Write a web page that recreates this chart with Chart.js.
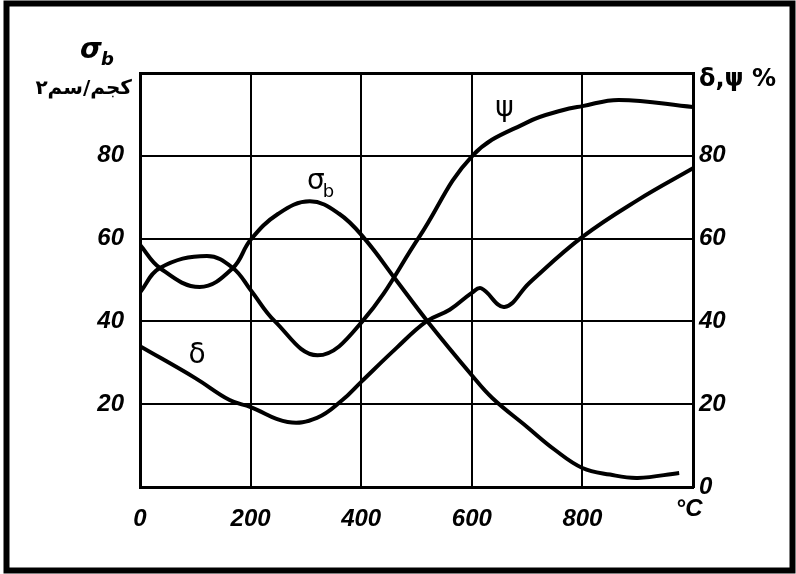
<!DOCTYPE html>
<html>
<head>
<meta charset="utf-8">
<script src="https://cdn.jsdelivr.net/npm/chart.js@4.4.1/dist/chart.umd.min.js"></script>
<style>
  html, body { margin: 0; padding: 0; background: #fff; }
  #wrap { width: 796px; height: 574px; }
</style>
</head>
<body>
<div id="wrap"><canvas id="myChart" width="796" height="574"></canvas></div>
<script>
// Temperature (°C) / value pairs, one set per curve
const sigmaTemp = [0, 36, 108, 168, 200, 250, 307, 360, 406, 463, 520, 600, 637, 700, 750, 800, 850, 900, 975];
const sigmaB    = [58.5, 52.9, 48.3, 52.9, 59.7, 66, 69, 66, 60, 50, 40, 27, 21.5, 14.5, 9, 4.6, 3, 2.2, 3.4];

const psiTemp = [0, 36, 121, 168, 200, 244, 321, 402, 505, 601, 702, 764, 800, 866, 1000];
const psi     = [47, 52.9, 55.8, 52.9, 47.6, 40, 31.8, 40, 60.4, 80, 88.2, 91, 92, 93.5, 91.8];

const deltaTemp = [0, 100, 162, 200, 267, 320, 366, 400, 464, 518, 560, 600, 617, 659, 704, 800, 900, 1000];
const delta     = [34, 26.3, 21, 19.3, 15.7, 16.7, 21, 25.4, 33.6, 40, 42.8, 46.9, 48, 43.5, 49.3, 60.4, 69.3, 77];

// tick labels
const xTicks = [0, 200, 400, 600, 800];
const leftTicks = [20, 40, 60, 80];
const rightTicks = [0, 20, 40, 60, 80];

// builds {x, y} points for chart.js
function toPoints(xs, ys) {
    return xs.map((x, i) => ({ x: x, y: ys[i] }));
}

const tickFont = { family: '"Liberation Sans"', size: 24, weight: 'bold', style: 'italic' };

// Draws the outer frame, axis titles and the curve names
const framePlugin = {
    id: 'framePlugin',
    beforeDraw(chart) {
        const ctx = chart.ctx;
        ctx.save();
        ctx.fillStyle = '#fff';
        ctx.fillRect(0, 0, chart.width, chart.height);
        ctx.restore();
    },
    afterDraw(chart) {
        const ctx = chart.ctx;
        const x = chart.scales.x, y = chart.scales.y, y2 = chart.scales.y2;
        ctx.save();
        ctx.strokeStyle = '#000';
        ctx.lineWidth = 6;
        ctx.strokeRect(6.5, 3.5, 786, 567);

        ctx.fillStyle = '#000';
        ctx.textBaseline = 'alphabetic';

        // left axis title
        ctx.textAlign = 'left';
        ctx.font = 'bold italic 28px "DejaVu Sans"';
        ctx.fillText('σ', 80, 58);
        ctx.font = 'bold italic 18px "DejaVu Sans"';
        ctx.fillText('b', 101, 65);
        ctx.textAlign = 'right';
        ctx.font = 'bold 20px "DejaVu Sans"';
        ctx.fillText('کجم/سم۲', 132, 94);

        // right axis title
        ctx.textAlign = 'left';
        ctx.font = 'bold 24px "DejaVu Sans"';
        ctx.fillText('δ,ψ %', 699, 86);

        // unit of the x axis
        ctx.textAlign = 'center';
        ctx.font = 'bold italic 24px "Liberation Sans"';
        ctx.fillText('°C', x.getPixelForValue(1000) - 4, 516);

        // curve names
        ctx.font = '28px "DejaVu Sans"';
        ctx.fillText('σ', x.getPixelForValue(318), y.getPixelForValue(72));
        ctx.font = '18px "DejaVu Sans"';
        ctx.fillText('b', x.getPixelForValue(341), y.getPixelForValue(70));
        ctx.font = '28px "DejaVu Sans"';
        ctx.fillText('ψ', x.getPixelForValue(659), y2.getPixelForValue(89.5));
        ctx.fillText('δ', x.getPixelForValue(103), y2.getPixelForValue(30));
        ctx.restore();
    }
};

const curveStyle = {
    borderColor: '#000',
    borderWidth: 4,
    pointRadius: 0,
    fill: false,
    tension: 0.4
};

new Chart(document.getElementById('myChart'), {
    type: 'line',
    data: {
        datasets: [
            Object.assign({ label: 'σb', data: toPoints(sigmaTemp, sigmaB), yAxisID: 'y' }, curveStyle),
            Object.assign({ label: 'ψ', data: toPoints(psiTemp, psi), yAxisID: 'y2' }, curveStyle),
            Object.assign({ label: 'δ', data: toPoints(deltaTemp, delta), yAxisID: 'y2' }, curveStyle)
        ]
    },
    options: {
        responsive: false,
        animation: false,
        devicePixelRatio: 1,
        layout: { padding: { top: 73, left: 0, right: 0, bottom: 0 } },
        plugins: { legend: { display: false }, tooltip: { enabled: false } },
        scales: {
            x: {
                type: 'linear',
                min: 0,
                max: 1000,
                ticks: {
                    stepSize: 200,
                    color: '#000',
                    font: tickFont,
                    padding: 18,
                    maxRotation: 0,
                    callback: (v) => xTicks.includes(v) ? String(v) : ''
                },
                grid: { color: '#000', lineWidth: (c) => c.tick && c.tick.value === 1000 ? 3 : 2, drawTicks: false },
                border: { color: '#000', width: 3 },
                afterFit: (scale) => { scale.height = 87; }
            },
            y: {
                position: 'left',
                min: 0,
                max: 100,
                ticks: {
                    stepSize: 20,
                    color: '#000',
                    font: tickFont,
                    padding: 16,
                    callback: (v) => leftTicks.includes(v) ? String(v) : ''
                },
                grid: { color: '#000', lineWidth: (c) => c.tick && c.tick.value === 100 ? 3 : 2, drawTicks: false },
                border: { color: '#000', width: 3 },
                afterFit: (scale) => { scale.width = 140; }
            },
            y2: {
                position: 'right',
                min: 0,
                max: 100,
                ticks: {
                    stepSize: 20,
                    color: '#000',
                    font: tickFont,
                    padding: 6,
                    callback: (v) => rightTicks.includes(v) ? String(v) : ''
                },
                grid: { display: false, drawTicks: false },
                border: { color: '#000', width: 3 },
                afterFit: (scale) => { scale.width = 103; }
            }
        }
    },
    plugins: [framePlugin]
});
</script>
</body>
</html>
